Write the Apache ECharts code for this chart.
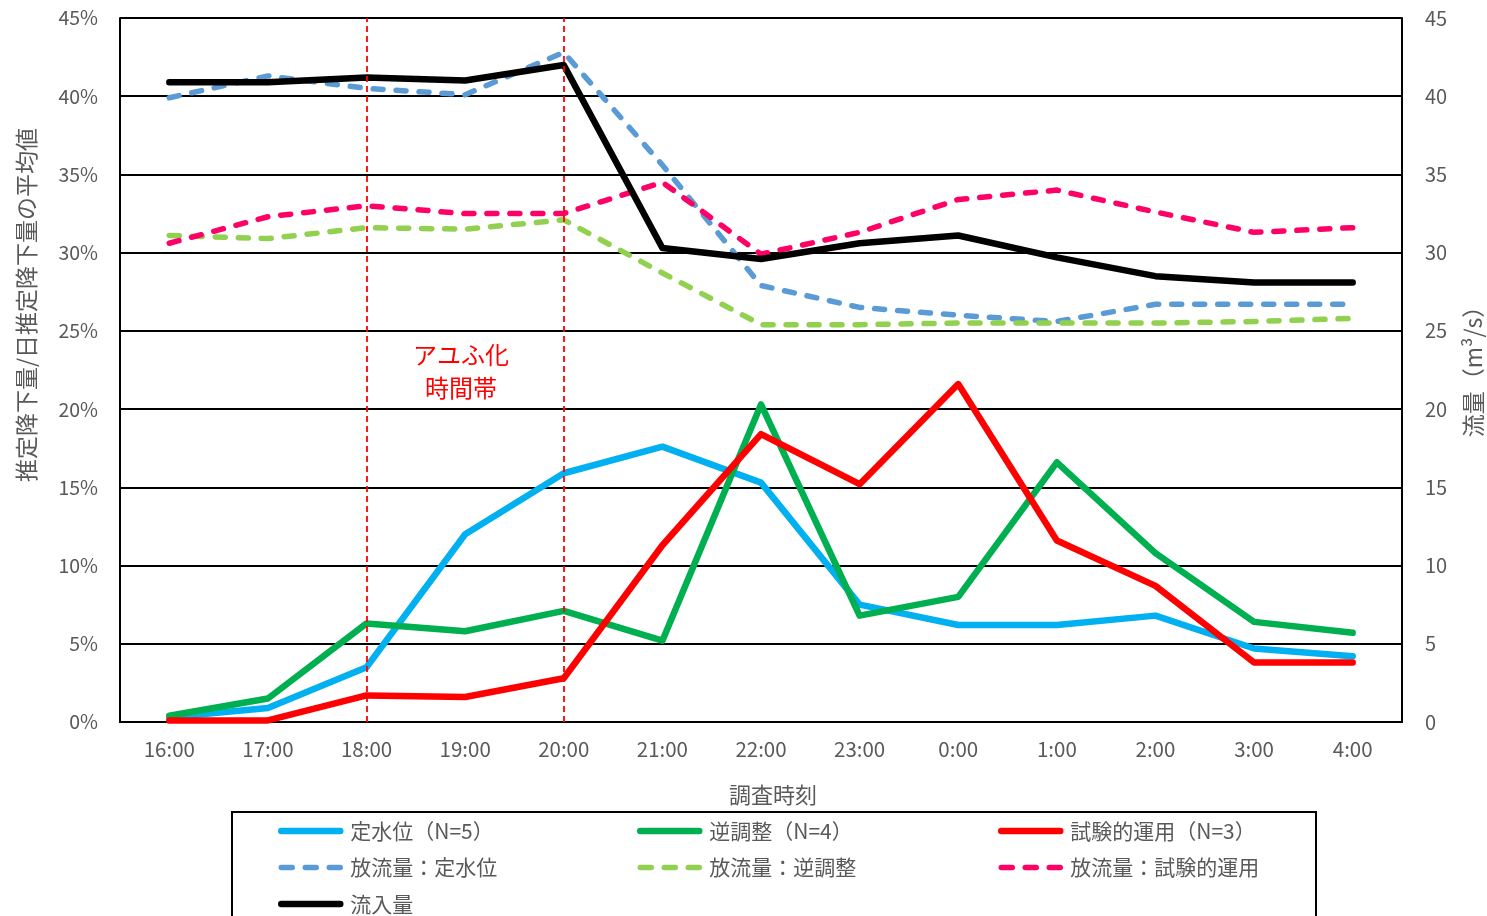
<!DOCTYPE html>
<html>
<head>
<meta charset="utf-8">
<script src="https://cdn.jsdelivr.net/npm/echarts@6/dist/echarts.min.js"></script>
<style>
  html, body { margin: 0; padding: 0; background: #fff; }
  #chart { width: 1487px; height: 916px; }
</style>
</head>
<body>
<div id="chart"></div>
<script>
// Survey times (category axis)
const times = ['16:00','17:00','18:00','19:00','20:00','21:00','22:00','23:00','0:00','1:00','2:00','3:00','4:00'];

// Estimated drift / mean daily drift (%), left axis
const constLevel = [0.3, 0.9, 3.5, 12.0, 15.9, 17.6, 15.3, 7.5, 6.2, 6.2, 6.8, 4.7, 4.2];
const reverseReg = [0.4, 1.5, 6.3, 5.8, 7.1, 5.2, 20.3, 6.8, 8.0, 16.6, 10.8, 6.4, 5.7];
const trialOp    = [0.1, 0.1, 1.7, 1.6, 2.8, 11.3, 18.4, 15.2, 21.6, 11.6, 8.7, 3.8, 3.8];

// Flow (m3/s), right axis
const outflowConst   = [39.9, 41.3, 40.5, 40.1, 42.8, 35.6, 27.9, 26.5, 26.0, 25.6, 26.7, 26.7, 26.7];
const outflowReverse = [31.1, 30.9, 31.6, 31.5, 32.1, 28.7, 25.4, 25.4, 25.5, 25.5, 25.5, 25.6, 25.8];
const outflowTrial   = [30.6, 32.3, 33.0, 32.5, 32.5, 34.5, 29.9, 31.3, 33.4, 34.0, 32.6, 31.3, 31.6];
const inflow         = [40.9, 40.9, 41.2, 41.0, 42.0, 30.3, 29.6, 30.6, 31.1, 29.7, 28.5, 28.1, 28.1];

// Hatching period markers
const hatchStart = '18:00';
const hatchEnd = '20:00';

const FONT = '"Noto Sans CJK JP", "Noto Sans", sans-serif';
const GRAY = '#595959';

const SOLID_W = 6.5;
const DASH_W = 5.5;
const DASH = [10, 13];

const chart = echarts.init(document.getElementById('chart'));

function solid(name, data, color) {
  return {
    name, type: 'line', data, yAxisIndex: 0,
    symbol: 'none', smooth: false,
    lineStyle: { color, width: SOLID_W, cap: 'round', join: 'round' },
    itemStyle: { color },
    emphasis: { disabled: true }
  };
}
function dashed(name, data, color) {
  return {
    name, type: 'line', data, yAxisIndex: 1,
    symbol: 'none', smooth: false,
    lineStyle: { color, width: DASH_W, type: DASH, cap: 'round', join: 'round' },
    itemStyle: { color },
    emphasis: { disabled: true }
  };
}

const legendText = { fontFamily: FONT, fontSize: 21, color: GRAY, lineHeight: 22, padding: [0, 0, 0, 5] };
function legendEntry(name, color, isDashed) {
  return {
    name,
    itemStyle: { opacity: 0 },
    lineStyle: isDashed
      ? { color, width: DASH_W, type: [11, 13], cap: 'round', opacity: 1 }
      : { color, width: SOLID_W, type: 'solid', cap: 'round', opacity: 1 }
  };
}
function legendCol(left, entries) {
  return {
    orient: 'vertical', left, top: 820, padding: 0,
    itemWidth: 59, itemHeight: 14, itemGap: 14.5,
    itemStyle: { opacity: 0 },
    textStyle: legendText, data: entries, selectedMode: false
  };
}

const series = [
  solid('定水位（N=5）', constLevel, '#00B0F0'),
  solid('逆調整（N=4）', reverseReg, '#00B050'),
  solid('試験的運用（N=3）', trialOp, '#FF0000'),
  dashed('放流量：定水位', outflowConst, '#5B9BD5'),
  dashed('放流量：逆調整', outflowReverse, '#92D050'),
  dashed('放流量：試験的運用', outflowTrial, '#FF0066'),
  {
    name: '流入量', type: 'line', data: inflow, yAxisIndex: 1,
    symbol: 'none',
    lineStyle: { color: '#000000', width: SOLID_W, cap: 'round', join: 'round' },
    itemStyle: { color: '#000000' },
    emphasis: { disabled: true }
  }
];

series[0].markLine = {
  silent: true, symbol: 'none', animation: false,
  label: { show: false },
  lineStyle: { color: '#FF0000', width: 1.8, type: [6, 4] },
  data: [{ xAxis: hatchStart }, { xAxis: hatchEnd }]
};

const option = {
  animation: false,
  backgroundColor: '#fff',
  grid: { left: 120, right: 85, top: 18, bottom: 194, containLabel: false },
  xAxis: {
    type: 'category', data: times, boundaryGap: true,
    axisLine: { lineStyle: { color: '#000', width: 2 } },
    axisTick: { show: false },
    axisLabel: { fontFamily: FONT, fontSize: 20.5, color: GRAY, margin: 17 }
  },
  yAxis: [
    {
      type: 'value', min: 0, max: 45, interval: 5,
      axisLine: { show: true, lineStyle: { color: '#000', width: 2 } },
      axisTick: { show: false },
      splitLine: { lineStyle: { color: '#000', width: 1.8 } },
      axisLabel: { fontFamily: FONT, fontSize: 19.5, color: GRAY, margin: 22, formatter: '{value}%' }
    },
    {
      type: 'value', min: 0, max: 45, interval: 5, position: 'right',
      axisLine: { show: true, lineStyle: { color: '#000', width: 2 } },
      axisTick: { show: false },
      splitLine: { show: false },
      axisLabel: { fontFamily: FONT, fontSize: 20, color: GRAY, margin: 23 }
    }
  ],
  legend: [
    legendCol(278, [
      legendEntry('定水位（N=5）', '#00B0F0', false),
      legendEntry('放流量：定水位', '#5B9BD5', true),
      legendEntry('流入量', '#000000', false)
    ]),
    legendCol(637, [
      legendEntry('逆調整（N=4）', '#00B050', false),
      legendEntry('放流量：逆調整', '#92D050', true)
    ]),
    legendCol(998, [
      legendEntry('試験的運用（N=3）', '#FF0000', false),
      legendEntry('放流量：試験的運用', '#FF0066', true)
    ])
  ],
  graphic: [
    {
      type: 'rect', z: -1, silent: true,
      shape: { x: 232, y: 812, width: 1084, height: 120 },
      style: { fill: '#fff', stroke: '#000', lineWidth: 2 }
    },
    {
      type: 'text', silent: true,
      x: 773, y: 795,
      style: { text: '調査時刻', fontFamily: FONT, fontSize: 22, fill: GRAY, align: 'center', verticalAlign: 'middle' }
    },
    {
      type: 'text', silent: true,
      x: 26, y: 305, rotation: Math.PI / 2,
      style: { text: '推定降下量/日推定降下量の平均値', fontFamily: FONT, fontSize: 23, fill: GRAY, align: 'center', verticalAlign: 'middle' }
    },
    {
      type: 'text', silent: true,
      x: 1473, y: 366, rotation: Math.PI / 2,
      style: { text: '流量（m³/s）', fontFamily: FONT, fontSize: 23, fill: GRAY, align: 'center', verticalAlign: 'middle' }
    },
    {
      type: 'text', silent: true,
      x: 461, y: 355,
      style: { text: 'アユふ化', fontFamily: FONT, fontSize: 24, fill: '#FF0000', align: 'center', verticalAlign: 'middle' }
    },
    {
      type: 'text', silent: true,
      x: 461, y: 388,
      style: { text: '時間帯', fontFamily: FONT, fontSize: 24, fill: '#FF0000', align: 'center', verticalAlign: 'middle' }
    }
  ],
  series
};

chart.setOption(option);
</script>
</body>
</html>
